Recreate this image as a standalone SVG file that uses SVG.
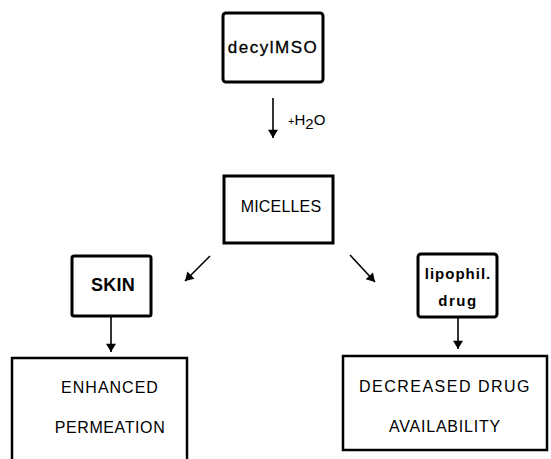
<svg xmlns="http://www.w3.org/2000/svg" width="551" height="459" viewBox="0 0 551 459">
<defs>
<style>
.box{fill:#fff;stroke:#000;stroke-width:3}
.t{font-family:"Liberation Sans",Arial,sans-serif;fill:#000;text-anchor:middle}
.ln{stroke:#000;stroke-width:1.6;fill:none}
</style>
<marker id="ah" viewBox="0 0 10 12" refX="10" refY="6" markerWidth="12" markerHeight="10" markerUnits="userSpaceOnUse" orient="auto">
<path d="M0,0 L10,6 L0,12 z" fill="#000"/>
</marker>
</defs>
<rect width="551" height="459" fill="#fff"/>
<g id="connectors">
<line class="ln" x1="273" y1="98" x2="273" y2="138" marker-end="url(#ah)"/>
<text class="t" x="288" y="125" style="text-anchor:start;font-size:15px"><tspan font-size="11">+</tspan>H<tspan dy="4">2</tspan><tspan dy="-4">O</tspan></text>
<line class="ln" x1="210" y1="256" x2="185" y2="281" marker-end="url(#ah)"/>
<line class="ln" x1="350" y1="255" x2="375" y2="282" marker-end="url(#ah)"/>
<line class="ln" x1="111" y1="316" x2="111" y2="352" marker-end="url(#ah)"/>
<line class="ln" x1="458" y1="317" x2="458" y2="349" marker-end="url(#ah)"/>
</g>
<g id="decylMSO">
<rect class="box" x="223" y="13" width="100" height="69" rx="3"/>
<text class="t" x="273" y="53" style="font-size:17px;letter-spacing:1.5px;stroke:#000;stroke-width:0.3">decylMSO</text>
</g>
<g id="micelles">
<rect class="box" x="224" y="176" width="109" height="67"/>
<text class="t" x="281" y="212" style="font-size:16px;letter-spacing:0.2px">MICELLES</text>
</g>
<g id="skin">
<rect class="box" x="72" y="256" width="79" height="60" rx="2"/>
<text class="t" x="113" y="291" style="font-size:18px;font-weight:bold;letter-spacing:0.3px">SKIN</text>
</g>
<g id="lipophil">
<rect class="box" x="418" y="254" width="79" height="63" rx="3"/>
<text class="t" x="458" y="279" style="font-size:15px;font-weight:bold;letter-spacing:1px">lipophil.</text>
<text class="t" x="458" y="306" style="font-size:15px;font-weight:bold;letter-spacing:1.5px">drug</text>
</g>
<g id="enhanced">
<path class="box" d="M12,462 L12,358 L187,358 L187,462" style="stroke-width:2.5"/>
<text class="t" x="110" y="393" style="font-size:16px;letter-spacing:1px">ENHANCED</text>
<text class="t" x="110" y="433" style="font-size:16px;letter-spacing:0.6px">PERMEATION</text>
</g>
<g id="decreased">
<rect class="box" x="343" y="356" width="204" height="94" style="stroke-width:2.5"/>
<text class="t" x="445" y="392" style="font-size:16px;letter-spacing:1.5px">DECREASED DRUG</text>
<text class="t" x="445" y="432" style="font-size:16px;letter-spacing:0.8px">AVAILABILITY</text>
</g>
</svg>
